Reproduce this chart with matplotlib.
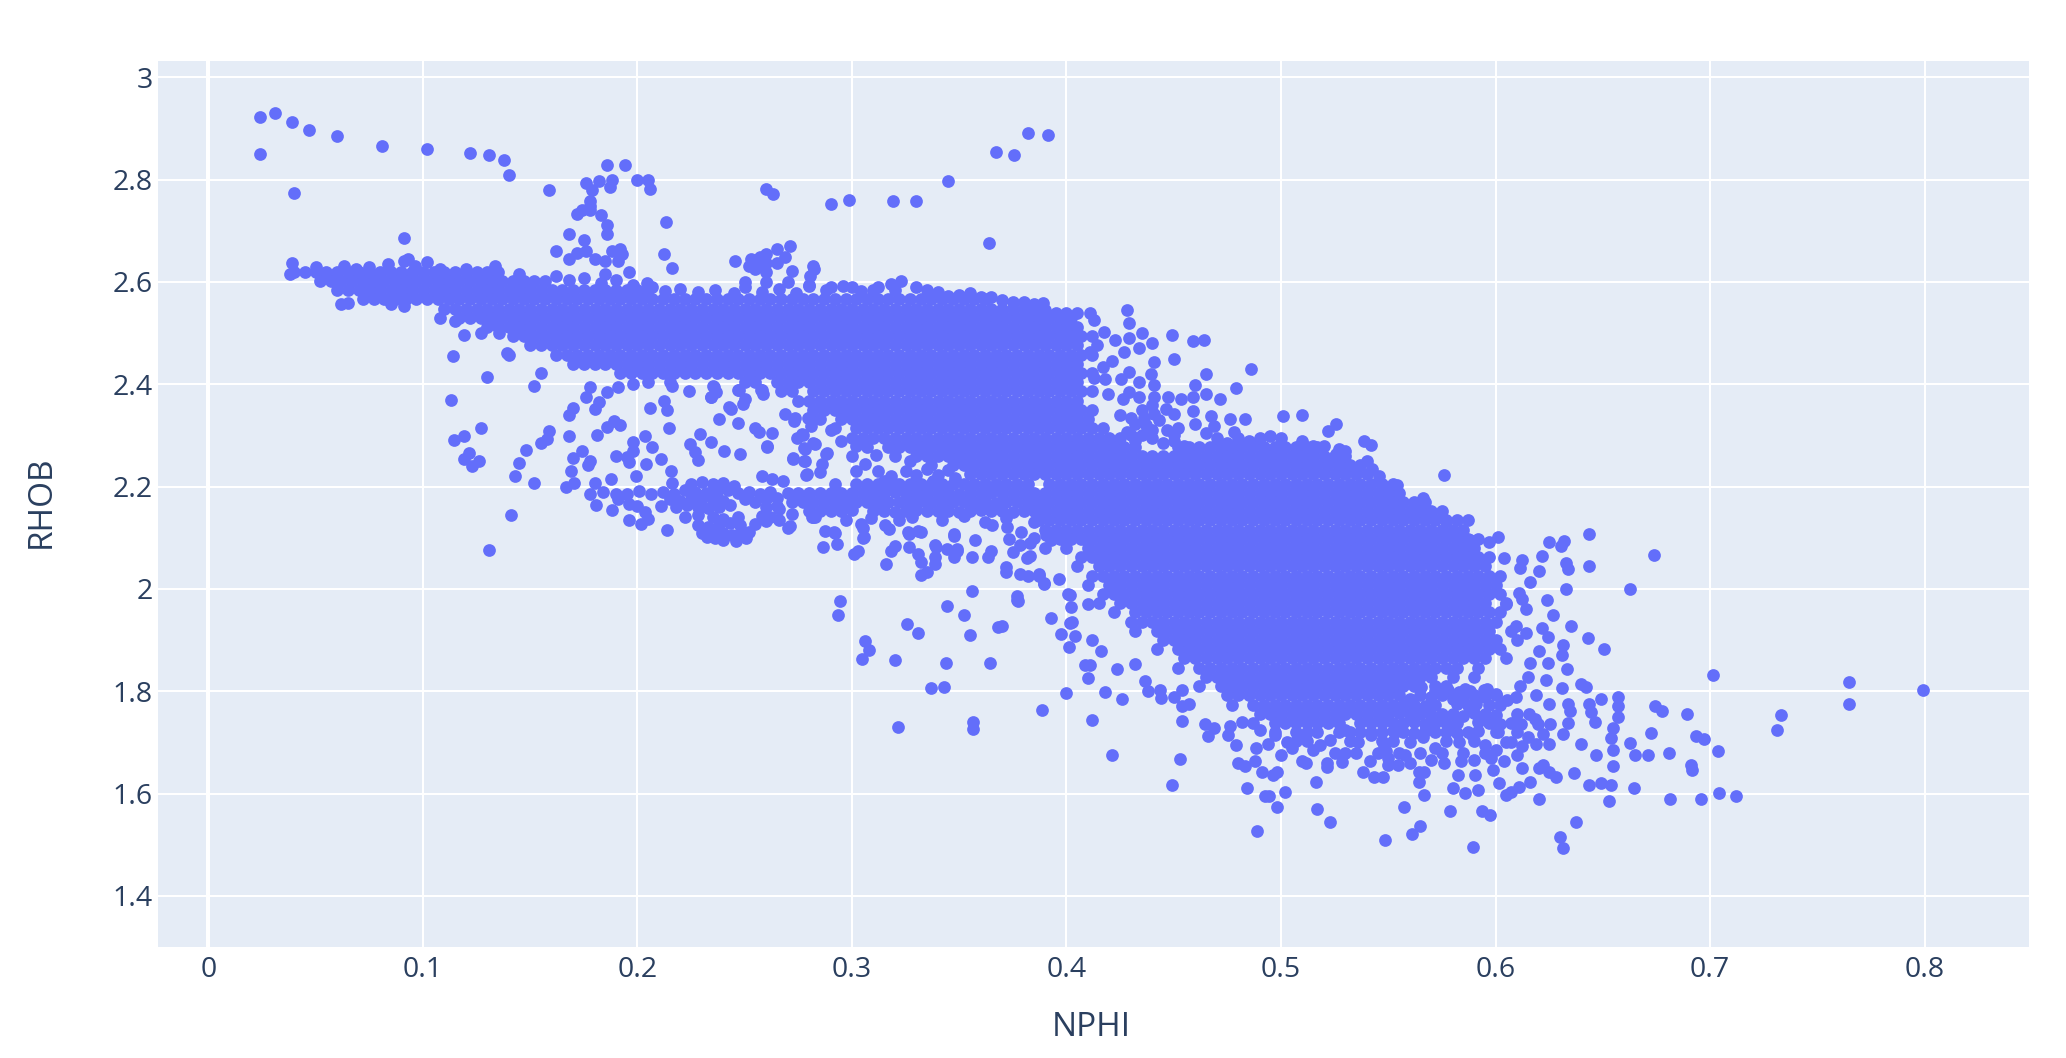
import matplotlib
matplotlib.use("Agg")
import matplotlib.pyplot as plt

# RHOB level of each row read across the dense cloud
CLOUD_RHOB = [2.620,2.602,2.584,2.566,2.548,2.530,2.512,2.494,2.476,2.458,2.440,2.422,2.404,2.386,2.368,2.350,2.332,2.314,2.296,2.278,2.260,2.242,2.224,2.206,2.188,2.170,2.152,2.134,2.116,2.098,2.080,2.062,2.044,2.026,2.008,1.990,1.972,1.954,1.936,1.918,1.900,1.882,1.864,1.846,1.828,1.810,1.792,1.774,1.756,1.738,1.720,1.702]
# NPHI (in thousandths) of the points read along each of those rows
CLOUD_NPHI = [
[40,45,50,55,60,65,70,75,80,85,90,95,100,105,110,115,120,125,130,135],
[52,57,62,67,72,77,82,87,92,97,102,107,112,117,122,127,132,137,142,147,152,157],
[60,65,70,75,80,85,90,95,100,105,110,115,120,125,130,135,140,145,150,155,160,165,170,175,180,185,190,195,200,205],
[72,77,82,87,92,97,102,107,112,117,122,127,132,137,142,147,152,157,162,167,172,177,182,187,192,197,202,207,212,217,222,227,232,237,242,247,252,257,262,267,272,277,282,287,292,297,302,307,312,317,322,327,332,337,342,347,352,357,362],
[110,115,120,125,130,135,140,145,150,155,160,165,170,175,180,185,190,195,200,205,210,215,220,225,230,235,240,245,250,255,260,265,270,275,280,285,290,295,300,305,310,315,320,325,330,335,340,345,350,355,360,365,370,375,380,385],
[117,122,127,132,137,142,147,152,157,162,167,172,177,182,187,192,197,202,207,212,217,222,227,232,237,242,247,252,257,262,267,272,277,282,287,292,297,302,307,312,317,322,327,332,337,342,347,352,357,362,367,372,377,382,387,392,397,402],
[130,135,140,145,150,155,160,165,170,175,180,185,190,195,200,205,210,215,220,225,230,235,240,245,250,255,260,265,270,275,280,285,290,295,300,305,310,315,320,325,330,335,340,345,350,355,360,365,370,375,380,385,390,395,400,405],
[142,147,152,157,162,167,172,177,182,187,192,197,202,207,212,217,222,227,232,237,242,247,252,257,262,267,272,277,282,287,292,297,302,307,312,317,322,327,332,337,342,347,352,357,362,367,372,377,382,387,392,397,402,407,412],
[150,155,160,165,170,175,180,185,190,195,200,205,210,215,220,225,230,235,240,245,250,255,260,265,270,275,280,285,290,295,300,305,310,315,320,325,330,335,340,345,350,355,360,365,370,375,380,385,390,395,400,405],
[162,167,172,177,182,187,192,197,202,207,212,217,222,227,232,237,242,247,252,257,262,267,272,277,282,287,292,297,302,307,312,317,322,327,332,337,342,347,352,357,362,367,372,377,382,387,392,397,402,407,412],
[170,175,180,185,190,195,200,205,210,215,220,225,230,235,240,245,250,255,260,265,270,275,280,285,290,295,300,305,310,315,320,325,330,335,340,345,350,355,360,365,370,375,380,385,390,395,400,405],
[192,197,202,207,212,217,222,227,232,237,242,247,252,257,262,267,272,277,282,287,292,297,302,307,312,317,322,327,332,337,342,347,352,357,362,367,372,377,382,387,392,397,402,407,412],
[205,215,250,255,265,270,275,280,285,290,295,300,305,310,315,320,325,330,335,340,345,350,355,360,365,370,375,380,385,390,395,400,405],
[267,272,282,287,292,297,302,307,312,317,322,327,332,337,342,347,352,357,362,367,372,377,382,387,392,397,402,407,412],
[275,280,285,290,295,300,305,310,315,320,325,330,335,340,345,350,355,360,365,370,375,380,385,390,395,400,405],
[282,287,292,297,302,307,312,317,322,327,332,337,342,347,352,357,362,367,372,377,382,387,392,397,402,407,412],
[285,295,300,305,310,315,320,325,330,335,340,345,350,355,360,365,370,375,380,385,390,395,400,405,410],
[292,302,307,312,317,322,327,332,337,342,347,352,357,362,367,372,377,382,387,392,397,402,407,412,417],
[300,305,310,315,320,325,330,335,340,345,350,355,360,365,370,375,380,385,390,395,400,405,410,415,420,425,470,480,490],
[307,317,322,327,332,337,342,347,352,357,362,367,372,377,382,387,392,397,402,407,412,417,422,427,432,452,457,462,467,472,477,482,487,492,497,502,507,512,517],
[320,330,335,340,345,350,355,360,365,370,375,380,385,390,395,400,405,410,415,420,425,430,435,440,445,450,455,460,465,470,475,480,485,490,495,500,505,510,515,520,525,530],
[337,347,352,357,362,367,372,377,382,387,392,397,402,407,412,417,422,427,432,437,442,447,452,457,462,467,472,477,482,487,492,497,502,507,512,517,522,527,532,537],
[355,360,365,370,375,380,385,390,395,400,405,410,415,420,425,430,435,440,445,450,455,460,465,470,475,480,485,490,495,500,505,510,515,520,525,530,535,540],
[292,307,312,322,332,337,342,347,352,357,362,367,372,377,382,392,397,402,407,412,417,422,427,432,437,442,447,452,457,462,467,472,477,482,487,492,497,502,507,512,517,522,527,532,537,542,547,552],
[270,275,280,290,295,300,305,310,315,325,330,335,340,345,355,360,365,370,375,385,390,395,400,405,410,415,420,425,430,435,440,445,450,455,460,465,470,475,480,485,490,495,500,505,510,515,520,525,530,535,540,545,550,555],
[272,277,282,287,292,297,307,312,317,322,327,337,342,347,352,357,362,372,377,382,387,392,397,402,407,412,417,422,427,432,437,442,447,452,457,462,467,472,477,482,487,492,497,502,507,512,517,522,527,532,537,542,547,552,557,562,567],
[280,290,295,310,315,325,335,340,345,355,365,370,380,385,390,395,400,405,410,415,420,425,430,435,440,445,450,455,460,465,470,475,480,485,490,495,500,505,510,515,520,525,530,535,540,545,550,555,560,565,570,575],
[392,402,407,412,417,422,427,432,437,442,447,452,457,462,467,472,477,482,487,492,497,502,507,512,517,522,527,532,537,542,547,552,557,562,567,572,577,582,587],
[395,405,410,415,420,425,430,435,440,445,450,455,460,465,470,475,480,485,490,495,500,505,510,515,520,525,530,535,540,545,550,555,560,565,570,575,580,585],
[402,407,412,417,422,427,432,437,442,447,452,457,462,467,472,477,482,487,492,497,502,507,512,517,522,527,532,537,542,547,552,557,562,567,572,577,582,587,592],
[400,410,415,420,425,430,435,440,445,450,455,460,465,470,475,480,485,490,495,500,505,510,515,520,525,530,535,540,545,550,555,560,565,570,575,580,585,590],
[407,412,417,422,427,432,437,442,447,452,457,462,467,472,477,482,487,492,497,502,507,512,517,522,527,532,537,542,547,552,557,562,567,572,577,582,587,592,597],
[405,415,420,425,430,435,440,445,450,455,460,465,470,475,480,485,490,495,500,505,510,515,520,525,530,535,540,545,550,555,560,565,570,575,580,585,590,595],
[412,417,422,427,432,437,442,447,452,457,462,467,472,477,482,487,492,497,502,507,512,517,522,527,532,537,542,547,552,557,562,567,572,577,582,587,592,597,602],
[410,420,425,430,435,440,445,450,455,460,465,470,475,480,485,490,495,500,505,510,515,520,525,530,535,540,545,550,555,560,565,570,575,580,585,590,595,600],
[417,422,427,432,437,442,447,452,457,462,467,472,477,482,487,492,497,502,507,512,517,522,527,532,537,542,547,552,557,562,567,572,577,582,587,592,597,602],
[415,425,430,435,440,445,450,455,460,465,470,475,480,485,490,495,500,505,510,515,520,525,530,535,540,545,550,555,560,565,570,575,580,585,590,595,605],
[422,432,437,442,447,452,457,462,467,472,477,482,487,492,497,502,507,512,517,522,527,532,537,542,547,552,557,562,567,572,577,582,587,592,597,602],
[430,435,440,445,450,455,460,465,470,475,480,485,490,495,500,505,510,515,520,525,530,535,540,545,550,555,560,565,570,575,580,585,590,595,600],
[432,442,447,452,457,462,467,472,477,482,487,492,497,502,507,512,517,522,527,532,537,542,547,552,557,562,567,572,577,582,587,592,597,607],
[445,450,455,460,465,470,475,480,485,490,495,500,505,510,515,520,525,530,535,540,545,550,555,560,565,570,575,580,585,590,595,600,610],
[442,452,457,462,467,472,477,482,487,492,497,502,507,512,517,522,527,532,537,542,547,552,557,562,567,572,577,582,587,592,597,602],
[455,460,465,470,475,480,485,490,495,500,505,510,515,520,525,530,535,540,545,550,555,560,565,570,575,580,585,590,595,605],
[452,462,467,472,477,482,487,492,497,502,507,512,517,522,527,532,537,542,547,552,557,562,567,572,577,582,592],
[465,470,475,480,485,490,495,500,505,510,515,520,525,530,535,540,545,550,555,560,565,570,580,590],
[462,472,477,482,487,492,497,502,507,512,517,522,527,532,537,542,547,552,557,562,572,577],
[475,480,485,490,495,500,505,510,515,520,525,530,535,540,545,550,555,565,575,590,600],
[477,487,492,497,502,507,512,517,522,527,532,537,542,547,552,562,572,587,597,602],
[490,495,500,505,510,515,520,525,530,535,540,550,560,565,580,595,610],
[487,497,502,507,512,517,522,527,537,542,552,557,572,582,597,607],
[497,507,512,517,527,532,542,547,557,577,587,600],
[507,512,532,547,552,577,590],
]

UPPER_ARC = [(.024,2.922),(.031,2.93),(.039,2.913),(.047,2.898),(.060,2.886),(.081,2.866),(.102,2.859),(.122,2.853),(.131,2.848),(.138,2.839),(.140,2.809),(.024,2.85),(.040,2.773),(.159,2.78),(.091,2.686)]
SPIKE_020 = [(.186,2.829),(.194,2.828),(.176,2.794),(.182,2.797),(.188,2.80),(.187,2.786),(.179,2.78),(.200,2.80),(.205,2.80),(.206,2.782),(.178,2.759),(.178,2.748),(.172,2.732),(.174,2.741),(.178,2.74),(.183,2.731),(.186,2.711),(.186,2.693),(.168,2.693),(.175,2.683),(.162,2.66),(.168,2.644),(.172,2.657),(.176,2.66),(.18,2.644),(.185,2.642),(.188,2.66),(.192,2.665),(.193,2.655),(.191,2.642),(.2135,2.717),(.2125,2.654),(.216,2.627),(.185,2.615),(.196,2.619),(.2045,2.599)]
BAND_EDGE = [(.039,2.637),(.038,2.615),(.05,2.629),(.063,2.632),(.069,2.625),(.075,2.629),(.0835,2.635),(.091,2.642),(.093,2.645),(.0965,2.632),(.102,2.64),(.108,2.625),(.12,2.625),(.1335,2.632),(.062,2.556),(.065,2.558),(.085,2.556),(.091,2.553),(.108,2.53),(.115,2.523),(.119,2.497),(.127,2.5),(.1355,2.5),(.114,2.455),(.139,2.462),(.14,2.458),(.13,2.414),(.152,2.396),(.155,2.422),(.113,2.369),(.127,2.314),(.1145,2.292),(.119,2.298),(.1215,2.265),(.119,2.254),(.126,2.251),(.123,2.241),(.141,2.145),(.131,2.077),(.143,2.221),(.145,2.246),(.148,2.271),(.152,2.207),(.155,2.285),(.159,2.308),(.158,2.293),(.168,2.298),(.181,2.3)]
TOP_EDGE = [(.145,2.615),(.162,2.612),(.168,2.603),(.175,2.607),(.183,2.598),(.19,2.604),(.198,2.594),(.207,2.59),(.213,2.582),(.22,2.587),(.228,2.58),(.236,2.585),(.245,2.578),(.25,2.59),(.258,2.58),(.266,2.586),(.274,2.579),(.28,2.592),(.288,2.585),(.296,2.593),(.304,2.583),(.312,2.59),(.318,2.596),(.335,2.585),(.345,2.572),(.355,2.578),(.365,2.57),(.375,2.56),(.385,2.552)]
BELOW_BAND = [(.170,2.354),(.168,2.34),(.178,2.394),(.176,2.375),(.18,2.352),(.182,2.365),(.186,2.384),(.191,2.394),(.198,2.4),(.186,2.316),(.189,2.329),(.192,2.321),(.206,2.353),(.214,2.349),(.2125,2.368),(.2145,2.314),(.2035,2.298),(.198,2.287),(.198,2.27),(.195,2.257),(.19,2.26),(.196,2.248),(.207,2.277),(.211,2.254),(.204,2.244),(.174,2.269),(.170,2.255),(.178,2.25),(.177,2.242),(.169,2.23),(.1705,2.208),(.1665,2.2),(.1995,2.22),(.2155,2.231),(.224,2.386),(.216,2.397),(.2345,2.375),(.2365,2.384),(.235,2.397),(.247,2.388),(.25,2.371),(.258,2.388),(.2435,2.352),(.238,2.332),(.247,2.324),(.255,2.314),(.2565,2.306),(.2625,2.304),(.2605,2.278),(.229,2.303),(.2245,2.283),(.227,2.267),(.228,2.252),(.2345,2.287),(.2405,2.269),(.248,2.263),(.269,2.342),(.273,2.329),(.2795,2.334),(.281,2.319),(.2745,2.296),(.277,2.301),(.283,2.283),(.278,2.274),(.2725,2.254),(.278,2.251),(.288,2.263),(.286,2.244),(.285,2.228),(.2785,2.223),(.258,2.22),(.2625,2.215),(.268,2.21),(.2355,2.394),(.2345,2.376),(.2475,2.389),(.2575,2.388),(.2585,2.381),(.2425,2.355),(.249,2.362),(.2605,2.28),(.2735,2.335),(.28,2.335),(.2765,2.303),(.282,2.286),(.2775,2.276),(.2885,2.265),(.2725,2.256),(.2775,2.25),(.279,2.225),(.30,2.26),(.302,2.23),(.306,2.245),(.312,2.23),(.318,2.22),(.325,2.23),(.33,2.222),(.338,2.21),(.295,2.29),(.29,2.31),(.302,2.28),(.311,2.262),(.327,2.25),(.345,2.232),(.335,2.235),(.34,2.222),(.348,2.216),(.32,2.205),(.327,2.206),(.315,2.21),(.302,2.206),(.317,2.206)]
SECOND_BAND_FILL = [(.285,2.152),(.30,2.155),(.32,2.15),(.33,2.154),(.35,2.15),(.36,2.155),(.375,2.15),(.302,2.17),(.332,2.172),(.367,2.168),(.285,2.188),(.32,2.19),(.35,2.186),(.38,2.188),(.387,2.134),(.397,2.134),(.39,2.116),(.40,2.116),(.385,2.10),(.393,2.095),(.397,2.098)]
LOWER_BAND = [(.18,2.207),(.178,2.186),(.1805,2.165),(.188,2.155),(.1875,2.215),(.184,2.189),(.19,2.186),(.195,2.186),(.191,2.176),(.196,2.166),(.2,2.163),(.196,2.134),(.2015,2.127),(.205,2.137),(.2035,2.15),(.214,2.115),(.2005,2.192),(.2065,2.186),(.211,2.163),(.216,2.208),
(.225,2.205),(.23,2.209),(.235,2.205),(.24,2.208),(.245,2.202),(.212,2.19),(.217,2.185),(.222,2.193),(.227,2.19),(.232,2.187),(.237,2.19),(.242,2.193),(.247,2.188),(.252,2.19),(.257,2.186),(.262,2.19),(.215,2.175),(.22,2.172),(.225,2.175),(.23,2.178),(.235,2.175),(.24,2.172),(.25,2.175),(.255,2.17),(.26,2.175),(.265,2.178),(.218,2.16),(.223,2.164),(.228,2.16),(.233,2.158),(.238,2.16),(.243,2.165),(.26,2.16),(.265,2.163),(.222,2.14),(.228,2.144),(.235,2.14),(.24,2.136),(.247,2.14),(.258,2.143),(.262,2.14),(.266,2.135),(.228,2.125),(.233,2.121),(.238,2.125),(.243,2.128),(.248,2.125),(.255,2.127),(.26,2.132),(.23,2.11),(.235,2.114),(.24,2.11),(.244,2.106),(.248,2.11),(.252,2.112),(.2505,2.099),(.246,2.093),(.24,2.095),(.2325,2.101),(.236,2.1)]
LOWER_FRINGE = [(.27,2.12),(.266,2.156),(.272,2.147),(.2815,2.14),(.2875,2.114),(.292,2.11),(.2865,2.081),(.293,2.088),(.301,2.068),(.303,2.075),(.305,2.12),(.305,2.1),(.316,2.049),(.318,2.075),(.32,2.083),(.3265,2.108),(.332,2.111),(.3265,2.081),(.331,2.068),(.332,2.052),(.332,2.027),(.335,2.033),(.3385,2.062),(.3385,2.085),(.3445,2.078),(.3475,2.062),(.349,2.075),(.3475,2.104),(.3575,2.096),(.356,2.062),(.365,2.075),(.3635,2.062),(.271,2.123),(.282,2.141),(.2915,2.112),(.304,2.126),(.3055,2.101),(.3155,2.124),(.3175,2.118),(.326,2.111),(.331,2.113),(.3385,2.049),(.339,2.081),(.3475,2.108),(.349,2.078),(.3655,2.124),(.3725,2.121),(.372,2.042),(.373,2.098),(.383,2.065),(.379,2.111),(.3785,2.029),(.387,2.029),(.3895,2.012),(.382,2.025),(.375,2.072),(.3905,2.105),(.3935,2.111),(.3965,2.019),(.283,2.14),(.297,2.135),(.309,2.138),(.322,2.134),(.328,2.14),(.342,2.135),(.352,2.142),(.362,2.13),(.372,2.138),(.385,2.13),(.383,2.09),(.39,2.08)]
BELOW_SCATTER = [(.2945,1.977),(.2935,1.95),(.356,1.995),(.3445,1.966),(.352,1.949),(.3255,1.932),(.331,1.914),(.355,1.91),(.368,1.925),(.306,1.899),(.308,1.881),(.3045,1.863),(.32,1.862),(.344,1.856),(.3645,1.855),(.337,1.806),(.343,1.808),(.3215,1.73),(.3565,1.739),(.3565,1.726),(.377,1.986),(.377,1.979),(.393,1.944),(.4015,1.989),(.4025,1.936),(.3775,1.977),(.37,1.927),(.387,2.026),(.3895,2.01),(.372,2.033),(.3815,2.06),(.3785,2.086)]
TOP_SCATTER = [(.26,2.782),(.263,2.772),(.29,2.752),(.2985,2.76),(.319,2.758),(.330,2.759),(.345,2.797),(.367,2.855),(.3755,2.849),(.382,2.891),(.3915,2.888),(.364,2.677),(.2455,2.641),(.253,2.645),(.252,2.632),(.255,2.625),(.257,2.648),(.26,2.655),(.26,2.619),(.265,2.665),(.271,2.67),(.269,2.648),(.265,2.638),(.272,2.622),(.26,2.638),(.257,2.632),(.282,2.632),(.2825,2.625),(.2805,2.612),(.25,2.6),(.26,2.6),(.27,2.6),(.28,2.595),(.29,2.59),(.30,2.59),(.31,2.585),(.32,2.585),(.323,2.602),(.33,2.59),(.34,2.58),(.35,2.575),(.36,2.57),(.37,2.565),(.38,2.56)]
RIGHT_OF_BAND = [(.428,2.546),(.429,2.52),(.389,2.559),(.385,2.556),(.411,2.54),(.413,2.526),(.40,2.54),(.405,2.54),(.39,2.545),(.395,2.54),(.449,2.497),(.459,2.484),(.464,2.487),(.45,2.45),(.465,2.42),(.486,2.43),(.479,2.393),(.46,2.399),(.501,2.339),(.51,2.34),(.5255,2.322),(.522,2.309),(.5385,2.289),(.542,2.282),(.52,2.279),(.527,2.273),(.5255,2.263),(.5425,2.235),(.5455,2.22),(.4175,2.503),(.4225,2.487),(.429,2.49),(.435,2.5),(.44,2.48),(.434,2.47),(.427,2.464),(.421,2.446),(.414,2.477),(.411,2.464),(.441,2.444),(.417,2.434),(.413,2.413),(.418,2.411),(.4395,2.421),(.4255,2.411),(.429,2.424),(.434,2.404),(.441,2.398),(.429,2.385),(.434,2.375),(.4265,2.372),(.441,2.375),(.4475,2.375),(.4535,2.372),(.459,2.375),(.465,2.381),(.4715,2.372),(.459,2.348),(.4465,2.352),(.45,2.342),(.4675,2.339),(.476,2.332),(.483,2.332),(.46,2.322),(.469,2.319),(.478,2.306),(.4195,2.381),(.432,2.322),(.436,2.335),(.428,2.306),(.441,2.342),(.425,2.34),(.43,2.3),(.44,2.31),(.45,2.3),(.50,2.295),(.51,2.29),(.515,2.28),(.53,2.27),(.54,2.25),(.554,2.203),(.576,2.223),(.566,2.177),(.555,2.141),(.579,2.107),(.588,2.095),(.577,2.133),(.435,2.30),(.44,2.295),(.445,2.285),(.45,2.29),(.455,2.28),(.432,2.29),(.437,2.32),(.443,2.33),(.447,2.31),(.452,2.315),(.43,2.335),(.435,2.35),(.44,2.36),(.475,2.285),(.465,2.305),(.485,2.29),(.495,2.298)]
BLOB_LOWER_LEFT = [(.4005,1.99),(.402,1.964),(.41,1.97),(.4015,1.934),(.3975,1.911),(.404,1.907),(.412,1.901),(.401,1.886),(.416,1.878),(.4085,1.851),(.411,1.851),(.41,1.825),(.4235,1.843),(.432,1.853),(.4,1.797),(.418,1.798),(.426,1.785),(.3885,1.764),(.412,1.744),(.4365,1.82),(.438,1.8),(.4435,1.802),(.444,1.786),(.45,1.788),(.454,1.802),(.454,1.772),(.457,1.775),(.454,1.742),(.4645,1.735),(.469,1.729),(.466,1.712),(.476,1.732),(.4755,1.714),(.482,1.739),(.479,1.694),(.4885,1.689),(.494,1.696),(.5,1.676),(.48,1.659),(.483,1.653),(.488,1.664),(.491,1.643),(.498,1.643),(.4965,1.636),(.51,1.663),(.5115,1.659),(.5215,1.659),(.5215,1.651),(.5285,1.661),(.5165,1.623),(.484,1.61),(.4925,1.595),(.4945,1.595),(.502,1.603),(.498,1.573),(.517,1.57),(.523,1.544),(.489,1.526),(.449,1.616),(.421,1.676),(.453,1.668),(.505,1.69),(.515,1.685),(.525,1.68),(.535,1.68),(.545,1.68),(.555,1.68),(.565,1.68),(.575,1.68),(.585,1.68),(.595,1.68)]
BLOB_LOWER_FILL = [(.49,1.725),(.497,1.715),(.503,1.70),(.51,1.71),(.518,1.695),(.523,1.705),(.53,1.725),(.536,1.70),(.542,1.715),(.548,1.695),(.553,1.72),(.56,1.70),(.566,1.71),(.572,1.69),(.578,1.725),(.583,1.70),(.589,1.715),(.595,1.695),(.601,1.72),(.607,1.70),(.612,1.735),(.53,1.68),(.55,1.67),(.558,1.675),(.57,1.665),(.59,1.665),(.598,1.67),(.61,1.675),(.55,1.655),
(.572,1.80),(.578,1.802),(.583,1.798),(.588,1.80),(.596,1.805),(.56,1.785),(.57,1.788),(.58,1.785),(.585,1.782),(.595,1.788),(.557,1.774),(.567,1.772),(.582,1.776),(.545,1.756),(.555,1.758),(.57,1.754),(.575,1.756),(.585,1.752),(.59,1.758),(.60,1.754),(.547,1.738),(.562,1.74),(.567,1.736),(.577,1.738),(.592,1.74),(.602,1.736),(.537,1.72),(.552,1.722),(.562,1.718),(.567,1.722),(.572,1.72),(.582,1.718),(.592,1.722)]
BLOB_LOWER_RIGHT = [(.538,1.643),(.5435,1.633),(.5475,1.633),(.5415,1.663),(.549,1.683),(.5545,1.656),(.56,1.66),(.5645,1.643),(.5665,1.643),(.5645,1.622),(.5665,1.597),(.5575,1.573),(.579,1.565),(.5485,1.51),(.561,1.52),(.565,1.537),(.5895,1.495),(.5935,1.565),(.5975,1.559),(.58,1.61),(.586,1.602),(.592,1.606),(.576,1.659),(.584,1.663),(.5825,1.636),(.5905,1.636),(.6015,1.62),(.605,1.597),(.607,1.603),(.611,1.613),(.616,1.623),(.6205,1.59),(.599,1.646),(.604,1.663),(.6125,1.65),(.6205,1.65),(.622,1.656),(.625,1.643),(.628,1.633),(.6365,1.64),(.63,1.516),(.6315,1.494),(.6375,1.544),(.6435,1.616),(.649,1.62),(.654,1.616),(.653,1.585),(.6645,1.61),(.6815,1.589),(.696,1.589),(.704,1.602),(.712,1.595),(.655,1.653),(.647,1.676),(.64,1.696),(.655,1.686),(.6625,1.699),(.665,1.675),(.671,1.675),(.6725,1.719),(.681,1.679),(.691,1.656),(.6915,1.646),(.6935,1.712),(.697,1.706),(.7035,1.683),(.6895,1.755),(.6745,1.772),(.6775,1.762),(.731,1.725),(.733,1.754),(.7015,1.831),(.765,1.819),(.765,1.776),(.7995,1.802),(.649,1.785),(.657,1.788),(.657,1.772),(.657,1.75),(.655,1.729),(.654,1.709),(.6465,1.739),(.6445,1.759),(.6435,1.775),(.634,1.775),(.6345,1.762),(.625,1.775),(.634,1.737),(.6315,1.716),(.6255,1.735),(.622,1.716),(.625,1.696),(.619,1.696),(.6125,1.692),(.605,1.70),(.61,1.72),(.615,1.71),(.62,1.735),(.60,1.685)]
BLOB_RIGHT = [(.6435,2.107),(.632,2.093),(.625,2.091),(.6305,2.083),(.6215,2.065),(.674,2.066),(.6435,2.045),(.633,2.05),(.634,2.038),(.6125,2.056),(.6205,2.036),(.6115,2.04),(.604,2.06),(.601,2.101),(.597,2.091),(.6625,2.0),(.633,1.999),(.616,2.013),(.624,1.979),(.611,1.993),(.6125,1.98),(.614,1.96),(.627,1.95),(.605,1.97),(.6095,1.927),(.635,1.927),(.6215,1.923),(.6245,1.906),(.643,1.905),(.6505,1.883),(.6315,1.891),(.631,1.871),(.614,1.914),(.6205,1.878),(.6245,1.855),(.6335,1.843),(.616,1.855),(.6235,1.821),(.64,1.815),(.642,1.808),(.631,1.807),(.619,1.792),(.615,1.828),(.6115,1.811),(.6095,1.788),(.6,1.795),(.6055,1.782),(.5945,1.802),(.586,1.805),(.5745,1.802),(.5655,1.808),(.591,1.775),(.5875,1.769),(.6155,1.755),(.6185,1.745)]

X_TICKS = [0, .1, .2, .3, .4, .5, .6, .7, .8]
X_LABELS = ["0", "0.1", "0.2", "0.3", "0.4", "0.5", "0.6", "0.7", "0.8"]
Y_TICKS = [1.4, 1.6, 1.8, 2.0, 2.2, 2.4, 2.6, 2.8, 3.0]
Y_LABELS = ["1.4", "1.6", "1.8", "2", "2.2", "2.4", "2.6", "2.8", "3"]

nphi, rhob = [], []
for level, row in zip(CLOUD_RHOB, CLOUD_NPHI):
    for milli in row:
        nphi.append(milli / 1000)
        rhob.append(level)
for group in (UPPER_ARC, SPIKE_020, BAND_EDGE, TOP_EDGE, BELOW_BAND, SECOND_BAND_FILL, LOWER_BAND, LOWER_FRINGE, BELOW_SCATTER,
              TOP_SCATTER, RIGHT_OF_BAND, BLOB_LOWER_LEFT, BLOB_LOWER_FILL, BLOB_LOWER_RIGHT, BLOB_RIGHT):
    for a, b in group:
        nphi.append(a)
        rhob.append(b)

INK = "#2a3f5f"
plt.rcParams["font.family"] = ["Open Sans", "DejaVu Sans"]
W, H = 2066, 1058
fig = plt.figure(figsize=(W / 100, H / 100), dpi=100, facecolor="white")
ax = fig.add_axes([158 / W, 1 - 946.5 / H, (2029 - 158) / W, (946.5 - 61) / H], facecolor="#E5ECF6")
ax.set_xlim(-0.0235, 0.8487)
ax.set_ylim(1.301, 3.032)
for s in ax.spines.values():
    s.set_visible(False)
ax.set_axisbelow(True)
ax.grid(True, color="white", linewidth=1.45)
ax.axvline(0, color="white", linewidth=2.9, zorder=0.9)
ax.scatter(nphi, rhob, s=84, color="#636EFA", linewidths=0, zorder=3, clip_on=True)
ax.set_xticks(X_TICKS, X_LABELS)
ax.set_yticks(Y_TICKS, Y_LABELS)
ax.tick_params(axis="both", length=0, labelsize=20.5, labelcolor=INK)
ax.tick_params(axis="x", pad=7)
ax.tick_params(axis="y", pad=4)
ax.set_xlabel("NPHI", fontsize=24, color=INK)
ax.set_ylabel("RHOB", fontsize=24, color=INK)
ax.xaxis.set_label_coords((1091 - 158) / (2029 - 158), -(1028 - 946.5) / (946.5 - 61), transform=ax.transAxes)
ax.xaxis.label.set_va("center")
ax.yaxis.set_label_coords((41 - 158) / (2029 - 158), (946.5 - 502) / (946.5 - 61), transform=ax.transAxes)
ax.yaxis.label.set_va("center")
fig.savefig("out.png", dpi=100)
